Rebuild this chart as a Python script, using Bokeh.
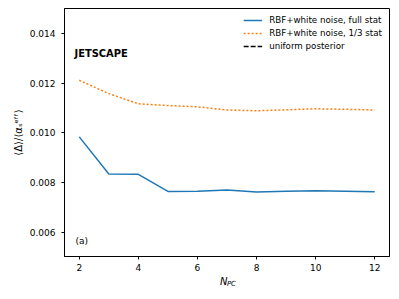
import math
from bokeh.plotting import figure
from bokeh.models import Label, Range1d, Legend, LegendItem, ColumnDataSource, FixedTicker, LinearAxis
from bokeh.embed import file_html
from bokeh.resources import INLINE

n_pc = [2, 3, 4, 5, 6, 7, 8, 9, 10, 11, 12]
full_stat = [0.00984, 0.00834, 0.00833, 0.00764, 0.00765, 0.00770, 0.00762, 0.00765, 0.00767, 0.00765, 0.00763]
third_stat = [0.01212, 0.01158, 0.01117, 0.01110, 0.01105, 0.01092, 0.01089, 0.01093, 0.01097, 0.01095, 0.01092]
x_ticks = [2, 4, 6, 8, 10, 12]
y_ticks = [0.006, 0.008, 0.010, 0.012, 0.014]
labels = ["RBF+white noise, full stat", "RBF+white noise, 1/3 stat", "uniform posterior"]

FONT = "DejaVu Sans"
NBSP = "\u00a0"

p = figure(width=391, height=291, output_backend="svg", toolbar_location=None,
           x_range=Range1d(1.5, 12.5), y_range=Range1d(0.00502, 0.01501),
           min_border_left=64, min_border_right=2, min_border_top=8, min_border_bottom=35)
p.background_fill_color = "white"
p.border_fill_color = "white"
p.outline_line_color = "black"
p.outline_line_width = 1
p.grid.visible = False

for ax in (p.xaxis, p.yaxis):
    ax.major_label_text_font = FONT
    ax.major_label_text_font_size = "9px"
    ax.major_label_text_color = "black"
    ax.axis_line_color = "black"
    ax.major_tick_line_color = "black"
    ax.major_tick_out = 3
    ax.major_tick_in = 0
    ax.minor_tick_line_color = None
    ax.axis_label_text_font = FONT
    ax.axis_label_text_font_style = "normal"
    ax.axis_label_text_color = "black"

p.xaxis.ticker = FixedTicker(ticks=x_ticks)
p.yaxis.ticker = FixedTicker(ticks=y_ticks)
p.xaxis.major_label_overrides = {t: str(t) for t in x_ticks}
p.yaxis.major_label_overrides = {t: f"{t:.3f}" for t in y_ticks}
p.xaxis.major_label_standoff = 4
p.yaxis.major_label_standoff = 6
p.yaxis.axis_label = "\u27e8\u0394\u27e9/\u27e8\u03b1\u209b\u1d49\u1da0\u1da0\u27e9"
p.yaxis.axis_label_text_font_size = "10px"
p.yaxis.axis_label_standoff = 3


def label_axis(text, size, standoff):
    a = LinearAxis(ticker=FixedTicker(ticks=[]), axis_line_color=None,
                   major_tick_line_color=None, minor_tick_line_color=None,
                   major_tick_out=0, major_tick_in=0, major_label_standoff=0,
                   major_label_text_font_size="0px",
                   axis_label=text, axis_label_text_font=FONT, axis_label_text_font_size=size,
                   axis_label_text_font_style="italic", axis_label_text_color="black",
                   axis_label_standoff=standoff)
    p.add_layout(a, "below")


# x-axis title N_PC: "N" nudged left, subscript "PC" nudged right and lowered
label_axis("N" + NBSP * 2, "10px", 2)
label_axis(NBSP * 4 + "PC", "7px", -10)

src = ColumnDataSource(dict(x=n_pc, full=full_stat, third=third_stat))
r1 = p.line("x", "full", source=src, line_color="#1f77b4", line_width=1.5)
r2 = p.line("x", "third", source=src, line_color="#ff7f0e", line_width=1.5, line_dash="2 2")
r3 = p.line(x=[math.nan], y=[math.nan], line_color="black", line_width=1.5, line_dash="5 2")

legend = Legend(items=[LegendItem(label=labels[0], renderers=[r1]),
                       LegendItem(label=labels[1], renderers=[r2]),
                       LegendItem(label=labels[2], renderers=[r3])],
                location="top_right", border_line_color=None, background_fill_alpha=0,
                label_text_font=FONT, label_text_font_size="8.7px", label_text_color="black",
                glyph_width=19, glyph_height=10, label_height=10, spacing=3,
                padding=4, margin=7, label_standoff=7)
p.add_layout(legend)

# panel tag
p.add_layout(Label(x=11, y=11, x_units="screen", y_units="screen", text="(a)",
                   text_font=FONT, text_font_size="9px", text_color="black"))
# logo text
p.add_layout(Label(x=10, y=197, x_units="screen", y_units="screen", text="JETSCAPE",
                   text_font="DejaVu Sans Condensed", text_font_size="11px",
                   text_font_style="bold", text_color="black"))

open("out.html", "w").write(file_html(p, INLINE))
